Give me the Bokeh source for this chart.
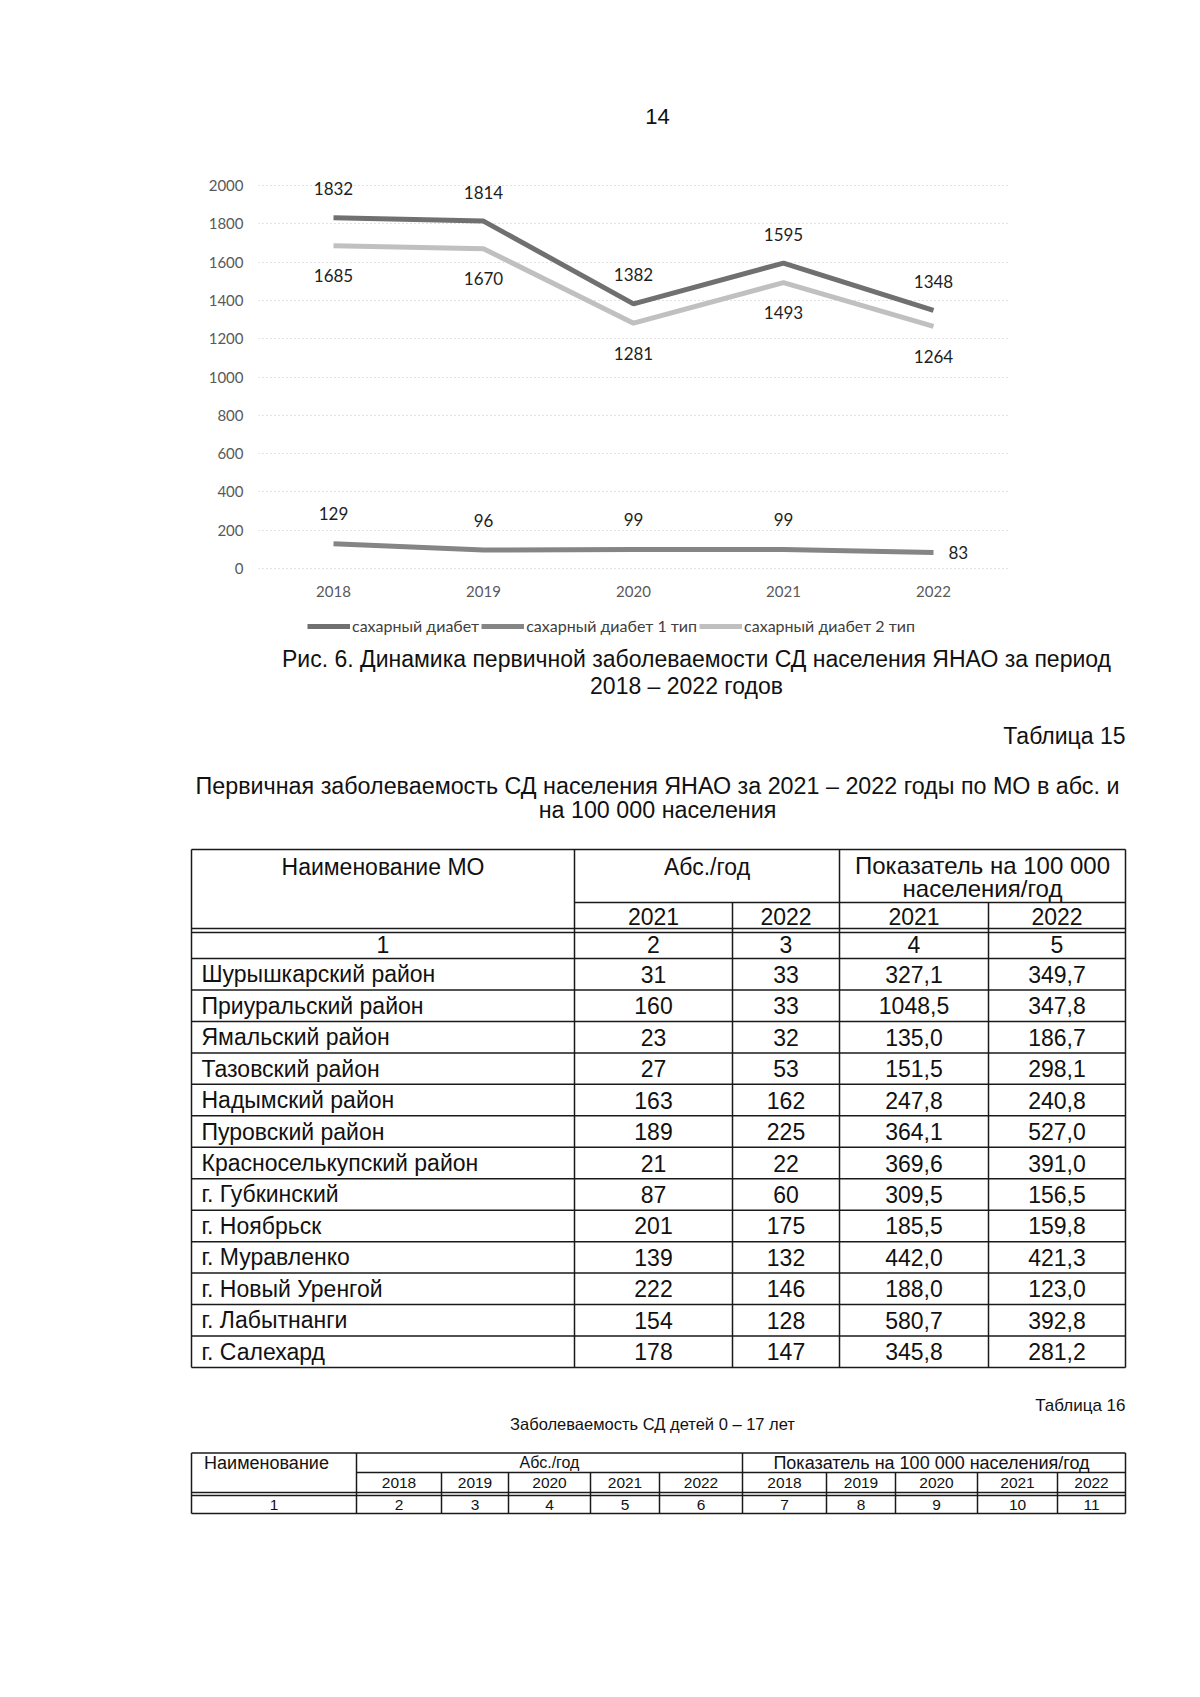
from bokeh.plotting import figure
from bokeh.models import Range1d, FixedTicker, Legend, LegendItem, ColumnDataSource, LinearAxis
from bokeh.layouts import column
from bokeh.embed import file_html
from bokeh.resources import INLINE
from bokeh.core.properties import value

# ---------------- data ----------------
years = [2018, 2019, 2020, 2021, 2022]
sd_total = [1832, 1814, 1382, 1595, 1348]
sd_type1 = [129, 96, 99, 99, 83]
sd_type2 = [1685, 1670, 1281, 1493, 1264]
series_names = ["сахарный диабет", "сахарный диабет 1 тип", "сахарный диабет 2 тип"]
y_ticks = [0, 200, 400, 600, 800, 1000, 1200, 1400, 1600, 1800, 2000]

page_number = "14"
fig_caption = ["Рис. 6. Динамика первичной заболеваемости СД населения ЯНАО за период",
               "2018 – 2022 годов"]
table15_label = "Таблица 15"
table15_title = ["Первичная заболеваемость СД населения ЯНАО за 2021 – 2022 годы по МО в абс. и",
                 "на 100 000 населения"]
t15_head_name = "Наименование МО"
t15_head_abs = "Абс./год"
t15_head_rate = ["Показатель на 100 000", "населения/год"]
t15_years = ["2021", "2022", "2021", "2022"]
t15_numbers = ["1", "2", "3", "4", "5"]
mo_names = ["Шурышкарский район", "Приуральский район", "Ямальский район", "Тазовский район",
            "Надымский район", "Пуровский район", "Красноселькупский район", "г. Губкинский",
            "г. Ноябрьск", "г. Муравленко", "г. Новый Уренгой", "г. Лабытнанги", "г. Салехард"]
abs_2021 = [31, 160, 23, 27, 163, 189, 21, 87, 201, 139, 222, 154, 178]
abs_2022 = [33, 33, 32, 53, 162, 225, 22, 60, 175, 132, 146, 128, 147]
rate_2021 = [327.1, 1048.5, 135.0, 151.5, 247.8, 364.1, 369.6, 309.5, 185.5, 442.0, 188.0, 580.7, 345.8]
rate_2022 = [349.7, 347.8, 186.7, 298.1, 240.8, 527.0, 391.0, 156.5, 159.8, 421.3, 123.0, 392.8, 281.2]

table16_label = "Таблица 16"
table16_title = "Заболеваемость СД детей 0 – 17 лет"
t16_head_name = "Наименование"
t16_head_abs = "Абс./год"
t16_head_rate = "Показатель на 100 000  населения/год"
t16_years = ["2018", "2019", "2020", "2021", "2022", "2018", "2019", "2020", "2021", "2022"]
t16_numbers = [str(i) for i in range(1, 12)]

# ---------------- layout constants (page pixels) ----------------
W = 1200
PAGE_H = 1697
TOP_H = 150           # page strip above the chart
CH_END = 639          # chart figure ends here on the page
FR_L, FR_R = 258, 1008
Y0_AT = 568           # page y of value 0
Y2000_AT = 185        # page y of value 2000
LEGEND_BOTTOM = 635   # page y of legend's lower edge
LEGEND_LEFT = 307
CHART_FONT = "Lato"
BODY_FONT = "Liberation Sans"


def page_fig(y0, y1):
    f = figure(width=W, height=y1 - y0, x_range=Range1d(0, W), y_range=Range1d(y1, y0),
               output_backend="svg", toolbar_location=None,
               min_border_left=0, min_border_right=0, min_border_top=0, min_border_bottom=0,
               x_axis_type=None, y_axis_type=None)
    f.outline_line_color = None
    f.xgrid.visible = False
    f.ygrid.visible = False
    f.background_fill_color = "white"
    f.border_fill_color = "white"
    f.frame_align = False
    return f


def put_text(f, x, y, s, size, align="center", color="#111111", font=BODY_FONT):
    f.text(x=[x], y=[y], text=[s], text_font=value(font), text_font_size=size,
           text_align=align, text_baseline="middle", text_color=color)


# ---------------- top strip (page number) ----------------
t = page_fig(0, TOP_H)
put_text(t, 657, 116, page_number, "22px")

# ---------------- chart ----------------
px_per_unit = (Y0_AT - Y2000_AT) / 2000.0
y_top_value = (Y0_AT - TOP_H) / px_per_unit
y_bottom_value = -(CH_END - Y0_AT) / px_per_unit
CH_H = CH_END - TOP_H

p = figure(width=W, height=CH_H, x_range=Range1d(2017.5, 2022.5),
           y_range=Range1d(y_bottom_value, y_top_value),
           output_backend="svg", toolbar_location=None, x_axis_location=None,
           min_border_left=FR_L, min_border_right=W - FR_R,
           min_border_top=0, min_border_bottom=0)
p.frame_align = False
p.outline_line_color = None
p.background_fill_color = "white"
p.border_fill_color = "white"
p.xgrid.visible = False
p.ygrid.ticker = FixedTicker(ticks=y_ticks)
p.ygrid.grid_line_color = "#c4c4c4"
p.ygrid.grid_line_dash = "1 3"
p.ygrid.grid_line_width = 1

xaxis = LinearAxis(ticker=FixedTicker(ticks=years), fixed_location=0)
p.add_layout(xaxis, "below")
p.yaxis.ticker = FixedTicker(ticks=y_ticks)
for ax in (xaxis, p.yaxis[0]):
    ax.axis_line_color = None
    ax.major_tick_line_color = None
    ax.minor_tick_line_color = None
    ax.major_tick_in = 0
    ax.major_tick_out = 0
    ax.minor_tick_in = 0
    ax.minor_tick_out = 0
    ax.major_label_text_font = CHART_FONT
    ax.major_label_text_font_size = "15px"
    ax.major_label_text_color = "#595959"
p.yaxis.major_label_standoff = 15
xaxis.major_label_standoff = 17

src = ColumnDataSource(dict(year=years, total=sd_total, t1=sd_type1, t2=sd_type2,
                            total_lbl=[str(v) for v in sd_total],
                            t2_lbl=[str(v) for v in sd_type2]))

r_t2 = p.line("year", "t2", source=src, line_width=5, line_color="#c0c0c0")
r_total = p.line("year", "total", source=src, line_width=5, line_color="#707070")
r_t1 = p.line("year", "t1", source=src, line_width=5, line_color="#858585")

lbl_kw = dict(text_font=value(CHART_FONT), text_font_size="17px", text_color="#1e1e1e",
              text_align="center", text_baseline="middle")
p.text("year", "total", text="total_lbl", source=src, y_offset=-29, **lbl_kw)
p.text("year", "t2", text="t2_lbl", source=src, y_offset=30, **lbl_kw)

src_t1a = ColumnDataSource(dict(year=years[:-1], t1=sd_type1[:-1],
                                lbl=[str(v) for v in sd_type1[:-1]]))
src_t1b = ColumnDataSource(dict(year=years[-1:], t1=sd_type1[-1:],
                                lbl=[str(v) for v in sd_type1[-1:]]))
p.text("year", "t1", text="lbl", source=src_t1a, y_offset=-30, **lbl_kw)
kw_right = dict(lbl_kw)
kw_right["text_align"] = "left"
p.text("year", "t1", text="lbl", source=src_t1b, x_offset=15, **kw_right)

legend = Legend(items=[LegendItem(label=series_names[0], renderers=[r_total]),
                       LegendItem(label=series_names[1], renderers=[r_t1]),
                       LegendItem(label=series_names[2], renderers=[r_t2])],
                orientation="horizontal",
                location=(LEGEND_LEFT - FR_L, CH_END - LEGEND_BOTTOM),
                border_line_color=None, background_fill_alpha=0,
                padding=0, margin=0, spacing=2, label_standoff=2,
                glyph_width=43, glyph_height=18, label_height=18,
                label_text_font=CHART_FONT, label_text_font_size="16px",
                label_text_color="#404040")
p.add_layout(legend)

# ---------------- page text and tables ----------------
q = page_fig(CH_END, PAGE_H)

put_text(q, 696, 658, fig_caption[0], "23px")
put_text(q, 686, 685, fig_caption[1], "23px")
put_text(q, 1125, 735, table15_label, "23px", align="right")
put_text(q, 657, 785, table15_title[0], "23.3px")
put_text(q, 657, 809, table15_title[1], "23.3px")

LC = "#1a1a1a"
LW = 1.5


def hline(x0, x1, y):
    q.segment(x0=[x0], y0=[y], x1=[x1], y1=[y], line_color=LC, line_width=LW)


def vline(x, y0, y1):
    q.segment(x0=[x], y0=[y0], x1=[x], y1=[y1], line_color=LC, line_width=LW)


def mid(a, b):
    return (a + b) / 2


# table 15 grid
c15 = [191, 574, 732, 839, 988, 1125]
T15_TOP, T15_SUB, T15_HB, T15_HB2, T15_NB = 849, 902, 928, 932, 958
ROW_H = (1367 - T15_NB) / len(mo_names)
row_bottoms = [T15_NB + ROW_H * (i + 1) for i in range(len(mo_names))]
T15_BOT = row_bottoms[-1]

hline(c15[0], c15[-1], T15_TOP)
hline(c15[1], c15[-1], T15_SUB)
hline(c15[0], c15[-1], T15_HB)
hline(c15[0], c15[-1], T15_HB2)
hline(c15[0], c15[-1], T15_NB)
for yb in row_bottoms:
    hline(c15[0], c15[-1], yb)
for x in (c15[0], c15[1], c15[3], c15[5]):
    vline(x, T15_TOP, T15_BOT)
for x in (c15[2], c15[4]):
    vline(x, T15_SUB, T15_BOT)

F15 = "23px"
put_text(q, mid(c15[0], c15[1]), 866, t15_head_name, F15)
put_text(q, mid(c15[1], c15[3]), 866, t15_head_abs, F15)
put_text(q, mid(c15[3], c15[5]), 865, t15_head_rate[0], "24px")
put_text(q, mid(c15[3], c15[5]), 888, t15_head_rate[1], "24px")
for i, s in enumerate(t15_years):
    put_text(q, mid(c15[i + 1], c15[i + 2]), 915.5, s, F15)
for i, s in enumerate(t15_numbers):
    put_text(q, mid(c15[i], c15[i + 1]), 944, s, F15)

row_centers = [yb - ROW_H / 2 for yb in row_bottoms]


def fmt(v):
    return f"{v:.1f}".replace(".", ",")


q.text(x=[201] * len(mo_names), y=row_centers, text=mo_names, text_font=value(BODY_FONT),
       text_font_size=F15, text_align="left", text_baseline="middle", text_color="#111111")
for ci, vals in enumerate([[str(v) for v in abs_2021], [str(v) for v in abs_2022],
                           [fmt(v) for v in rate_2021], [fmt(v) for v in rate_2022]]):
    xc = mid(c15[ci + 1], c15[ci + 2])
    q.text(x=[xc] * len(vals), y=row_centers, text=vals, text_font=value(BODY_FONT),
           text_font_size=F15, text_align="center", text_baseline="middle", text_color="#111111")

# table 16
put_text(q, 1125, 1405, table16_label, "17px", align="right")
put_text(q, 652, 1423, table16_title, "16.5px")
c16 = [191, 356, 441, 508, 590, 659, 742, 826, 895, 977, 1057, 1125]
T16_TOP, T16_SUB, T16_HB, T16_HB2, T16_BOT = 1452.5, 1472, 1492, 1495, 1513
hline(c16[0], c16[-1], T16_TOP)
hline(c16[1], c16[-1], T16_SUB)
hline(c16[0], c16[-1], T16_HB)
hline(c16[0], c16[-1], T16_HB2)
hline(c16[0], c16[-1], T16_BOT)
for x in (c16[0], c16[1], c16[6], c16[11]):
    vline(x, T16_TOP, T16_BOT)
for x in c16[2:6] + c16[7:11]:
    vline(x, T16_SUB, T16_BOT)
F16 = "15.5px"
put_text(q, 266, 1462, t16_head_name, "18px")
put_text(q, mid(c16[1], c16[6]), 1462, t16_head_abs, "16px")
put_text(q, mid(c16[6], c16[11]), 1462, t16_head_rate, "18px")
for i, s in enumerate(t16_years):
    put_text(q, mid(c16[i + 1], c16[i + 2]), 1482, s, F16)
for i, s in enumerate(t16_numbers):
    put_text(q, mid(c16[i], c16[i + 1]), 1504, s, F16)

layout = column(t, p, q, spacing=0)
open("out.html", "w").write(file_html(layout, INLINE))
